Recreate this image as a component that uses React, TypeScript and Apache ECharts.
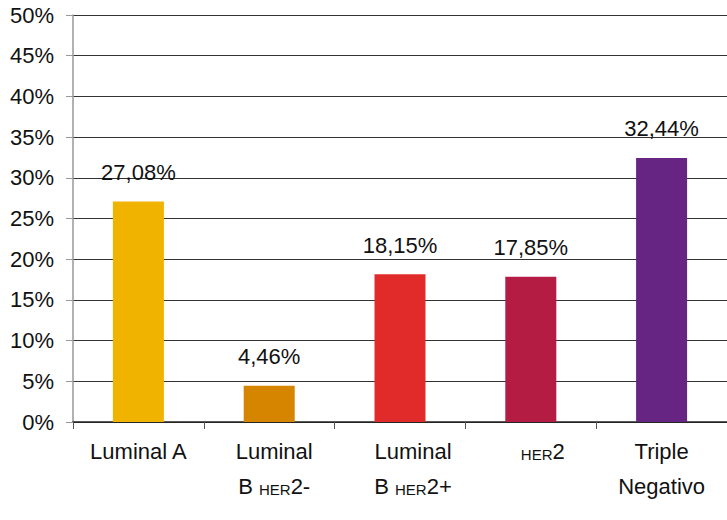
import React, { useEffect, useRef } from "react";
import * as echarts from "echarts";

const categories = ["Luminal A", "Luminal\nB HER2-", "Luminal\nB HER2+", "HER2", "Triple\nNegativo"];
const values = [27.08, 4.46, 18.15, 17.85, 32.44];
const barColors = ["#F0B400", "#D58500", "#E12B2A", "#B41C44", "#662483"];
const yTicks = [0, 5, 10, 15, 20, 25, 30, 35, 40, 45, 50];
const labelShift = [0, 10, 26, 24, 0];

const FONT = "Liberation Sans";

export default function App() {
  const ref = useRef<HTMLDivElement>(null);
  useEffect(() => {
    if (!ref.current) return;
    const chart = echarts.init(ref.current, null, { renderer: "svg" });
    chart.setOption({
      animation: false,
      grid: { left: 73, right: -9, top: 15, bottom: 98 },
      xAxis: {
        type: "category",
        data: categories.map((c, i) => ({ value: c, textStyle: { padding: [0, 0, 0, labelShift[i]] } })),
        axisLine: { lineStyle: { color: "#222", width: 1.5 } },
        axisTick: { show: true, length: 7, lineStyle: { color: "#555" } },
        axisLabel: {
          interval: 0,
          margin: 12,
          fontFamily: FONT,
          fontSize: 22,
          color: "#111",
          lineHeight: 35,
          formatter: (v: string) =>
            v
              .split("\n")
              .map((line) =>
                line
                  .split(/(HER)/)
                  .filter((t) => t.length > 0)
                  .map((t) => (t === "HER" ? "{s|HER}" : "{n|" + t + "}"))
                  .join("")
              )
              .join("\n"),
          rich: {
            n: { fontFamily: FONT, fontSize: 22, color: "#111", lineHeight: 35 },
            s: { fontFamily: FONT, fontSize: 15, color: "#111", lineHeight: 30, padding: [5, 0, 0, 0] },
          },
        },
      },
      yAxis: {
        type: "value",
        min: yTicks[0],
        max: yTicks[yTicks.length - 1],
        interval: 5,
        axisLine: { show: true, lineStyle: { color: "#999", width: 1.5 } },
        axisTick: { show: true, length: 7, lineStyle: { color: "#999" } },
        splitLine: { lineStyle: { color: "#333", width: 1 } },
        axisLabel: {
          margin: 19,
          fontFamily: FONT,
          fontSize: 22,
          color: "#111",
          formatter: (v: number) => v + "%",
        },
      },
      series: [
        {
          type: "bar",
          barWidth: "39%",
          data: values.map((v, i) => ({ value: v, itemStyle: { color: barColors[i] } })),
          label: {
            show: true,
            position: "top",
            distance: 18,
            fontFamily: FONT,
            fontSize: 22,
            color: "#111",
            formatter: (p: any) => p.value.toFixed(2).replace(".", ",") + "%",
          },
        },
      ],
    });
    return () => chart.dispose();
  }, []);
  return (
    <div
      ref={ref}
      style={{ position: "absolute", left: 0, top: 0, width: 727, height: 520, background: "#fff" }}
    />
  );
}
